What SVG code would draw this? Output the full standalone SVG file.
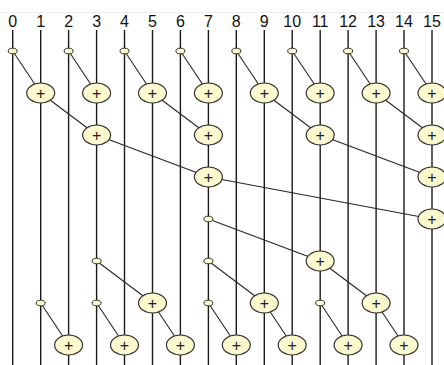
<svg xmlns="http://www.w3.org/2000/svg" width="444" height="365" viewBox="0 0 444 365">
<style>
.lbl{font-family:"Liberation Sans",Arial,sans-serif;font-size:16px;fill:#111;text-anchor:middle}
.wire{stroke:#1a1a1a;stroke-width:1.4}
.con line{stroke:#262626;stroke-width:1.1}
.op ellipse{fill:#fcf9cf;stroke:#333;stroke-width:1.2}
.op text{font-family:"Liberation Sans",Arial,sans-serif;font-size:16px;fill:#222;text-anchor:middle}
.dot ellipse{fill:#fcf9cf;stroke:#333;stroke-width:1}
</style>
<rect width="444" height="365" fill="#fff"/>
<line x1="0" y1="12.5" x2="444" y2="12.5" stroke="#ededed" stroke-width="1"/>
<g id="labels">
<text class="lbl" x="12.7" y="27">0</text>
<text class="lbl" x="40.7" y="27">1</text>
<text class="lbl" x="68.6" y="27">2</text>
<text class="lbl" x="96.6" y="27">3</text>
<text class="lbl" x="124.5" y="27">4</text>
<text class="lbl" x="152.5" y="27">5</text>
<text class="lbl" x="180.4" y="27">6</text>
<text class="lbl" x="208.4" y="27">7</text>
<text class="lbl" x="236.3" y="27">8</text>
<text class="lbl" x="264.3" y="27">9</text>
<text class="lbl" x="292.2" y="27">10</text>
<text class="lbl" x="320.2" y="27">11</text>
<text class="lbl" x="348.1" y="27">12</text>
<text class="lbl" x="376.1" y="27">13</text>
<text class="lbl" x="404" y="27">14</text>
<text class="lbl" x="432" y="27">15</text>
</g>
<g id="wires" class="wire">
<line x1="12.7" y1="30" x2="12.7" y2="365"/>
<line x1="40.7" y1="30" x2="40.7" y2="365"/>
<line x1="68.6" y1="30" x2="68.6" y2="365"/>
<line x1="96.6" y1="30" x2="96.6" y2="365"/>
<line x1="124.5" y1="30" x2="124.5" y2="365"/>
<line x1="152.5" y1="30" x2="152.5" y2="365"/>
<line x1="180.4" y1="30" x2="180.4" y2="365"/>
<line x1="208.4" y1="30" x2="208.4" y2="365"/>
<line x1="236.3" y1="30" x2="236.3" y2="365"/>
<line x1="264.3" y1="30" x2="264.3" y2="365"/>
<line x1="292.2" y1="30" x2="292.2" y2="365"/>
<line x1="320.2" y1="30" x2="320.2" y2="365"/>
<line x1="348.1" y1="30" x2="348.1" y2="365"/>
<line x1="376.1" y1="30" x2="376.1" y2="365"/>
<line x1="404" y1="30" x2="404" y2="365"/>
<line x1="432" y1="30" x2="432" y2="365"/>
</g>
<g id="connectors" class="con">
<line x1="12.7" y1="51" x2="40.7" y2="93"/>
<line x1="68.6" y1="51" x2="96.6" y2="93"/>
<line x1="124.5" y1="51" x2="152.5" y2="93"/>
<line x1="180.4" y1="51" x2="208.4" y2="93"/>
<line x1="236.3" y1="51" x2="264.3" y2="93"/>
<line x1="292.2" y1="51" x2="320.2" y2="93"/>
<line x1="348.1" y1="51" x2="376.1" y2="93"/>
<line x1="404" y1="51" x2="432" y2="93"/>
<line x1="40.7" y1="93" x2="96.6" y2="135"/>
<line x1="152.5" y1="93" x2="208.4" y2="135"/>
<line x1="264.3" y1="93" x2="320.2" y2="135"/>
<line x1="376.1" y1="93" x2="432" y2="135"/>
<line x1="96.6" y1="135" x2="208.4" y2="177"/>
<line x1="320.2" y1="135" x2="432" y2="177"/>
<line x1="208.4" y1="177" x2="432" y2="219"/>
<line x1="208.4" y1="219" x2="320.2" y2="261"/>
<line x1="96.6" y1="261" x2="152.5" y2="303"/>
<line x1="208.4" y1="261" x2="264.3" y2="303"/>
<line x1="320.2" y1="261" x2="376.1" y2="303"/>
<line x1="40.7" y1="303" x2="68.6" y2="345"/>
<line x1="96.6" y1="303" x2="124.5" y2="345"/>
<line x1="152.5" y1="303" x2="180.4" y2="345"/>
<line x1="208.4" y1="303" x2="236.3" y2="345"/>
<line x1="264.3" y1="303" x2="292.2" y2="345"/>
<line x1="320.2" y1="303" x2="348.1" y2="345"/>
<line x1="376.1" y1="303" x2="404" y2="345"/>
</g>
<g id="dots" class="dot">
<g id="d0_0"><ellipse cx="12.7" cy="51" rx="4.5" ry="2.8"/></g>
<g id="d2_0"><ellipse cx="68.6" cy="51" rx="4.5" ry="2.8"/></g>
<g id="d4_0"><ellipse cx="124.5" cy="51" rx="4.5" ry="2.8"/></g>
<g id="d6_0"><ellipse cx="180.4" cy="51" rx="4.5" ry="2.8"/></g>
<g id="d8_0"><ellipse cx="236.3" cy="51" rx="4.5" ry="2.8"/></g>
<g id="d10_0"><ellipse cx="292.2" cy="51" rx="4.5" ry="2.8"/></g>
<g id="d12_0"><ellipse cx="348.1" cy="51" rx="4.5" ry="2.8"/></g>
<g id="d14_0"><ellipse cx="404" cy="51" rx="4.5" ry="2.8"/></g>
<g id="d7_4"><ellipse cx="208.4" cy="219" rx="4.5" ry="2.8"/></g>
<g id="d3_5"><ellipse cx="96.6" cy="261" rx="4.5" ry="2.8"/></g>
<g id="d7_5"><ellipse cx="208.4" cy="261" rx="4.5" ry="2.8"/></g>
<g id="d1_6"><ellipse cx="40.7" cy="303" rx="4.5" ry="2.8"/></g>
<g id="d3_6"><ellipse cx="96.6" cy="303" rx="4.5" ry="2.8"/></g>
<g id="d7_6"><ellipse cx="208.4" cy="303" rx="4.5" ry="2.8"/></g>
<g id="d11_6"><ellipse cx="320.2" cy="303" rx="4.5" ry="2.8"/></g>
</g>
<g id="ops" class="op">
<g id="p1_1"><ellipse cx="40.7" cy="93" rx="14" ry="10"/><text x="40.7" y="98.5">+</text></g>
<g id="p3_1"><ellipse cx="96.6" cy="93" rx="14" ry="10"/><text x="96.6" y="98.5">+</text></g>
<g id="p5_1"><ellipse cx="152.5" cy="93" rx="14" ry="10"/><text x="152.5" y="98.5">+</text></g>
<g id="p7_1"><ellipse cx="208.4" cy="93" rx="14" ry="10"/><text x="208.4" y="98.5">+</text></g>
<g id="p9_1"><ellipse cx="264.3" cy="93" rx="14" ry="10"/><text x="264.3" y="98.5">+</text></g>
<g id="p11_1"><ellipse cx="320.2" cy="93" rx="14" ry="10"/><text x="320.2" y="98.5">+</text></g>
<g id="p13_1"><ellipse cx="376.1" cy="93" rx="14" ry="10"/><text x="376.1" y="98.5">+</text></g>
<g id="p15_1"><ellipse cx="432" cy="93" rx="14" ry="10"/><text x="432" y="98.5">+</text></g>
<g id="p3_2"><ellipse cx="96.6" cy="135" rx="14" ry="10"/><text x="96.6" y="140.5">+</text></g>
<g id="p7_2"><ellipse cx="208.4" cy="135" rx="14" ry="10"/><text x="208.4" y="140.5">+</text></g>
<g id="p11_2"><ellipse cx="320.2" cy="135" rx="14" ry="10"/><text x="320.2" y="140.5">+</text></g>
<g id="p15_2"><ellipse cx="432" cy="135" rx="14" ry="10"/><text x="432" y="140.5">+</text></g>
<g id="p7_3"><ellipse cx="208.4" cy="177" rx="14" ry="10"/><text x="208.4" y="182.5">+</text></g>
<g id="p15_3"><ellipse cx="432" cy="177" rx="14" ry="10"/><text x="432" y="182.5">+</text></g>
<g id="p15_4"><ellipse cx="432" cy="219" rx="14" ry="10"/><text x="432" y="224.5">+</text></g>
<g id="p11_5"><ellipse cx="320.2" cy="261" rx="14" ry="10"/><text x="320.2" y="266.5">+</text></g>
<g id="p5_6"><ellipse cx="152.5" cy="303" rx="14" ry="10"/><text x="152.5" y="308.5">+</text></g>
<g id="p9_6"><ellipse cx="264.3" cy="303" rx="14" ry="10"/><text x="264.3" y="308.5">+</text></g>
<g id="p13_6"><ellipse cx="376.1" cy="303" rx="14" ry="10"/><text x="376.1" y="308.5">+</text></g>
<g id="p2_7"><ellipse cx="68.6" cy="345" rx="14" ry="10"/><text x="68.6" y="350.5">+</text></g>
<g id="p4_7"><ellipse cx="124.5" cy="345" rx="14" ry="10"/><text x="124.5" y="350.5">+</text></g>
<g id="p6_7"><ellipse cx="180.4" cy="345" rx="14" ry="10"/><text x="180.4" y="350.5">+</text></g>
<g id="p8_7"><ellipse cx="236.3" cy="345" rx="14" ry="10"/><text x="236.3" y="350.5">+</text></g>
<g id="p10_7"><ellipse cx="292.2" cy="345" rx="14" ry="10"/><text x="292.2" y="350.5">+</text></g>
<g id="p12_7"><ellipse cx="348.1" cy="345" rx="14" ry="10"/><text x="348.1" y="350.5">+</text></g>
<g id="p14_7"><ellipse cx="404" cy="345" rx="14" ry="10"/><text x="404" y="350.5">+</text></g>
</g>
</svg>
